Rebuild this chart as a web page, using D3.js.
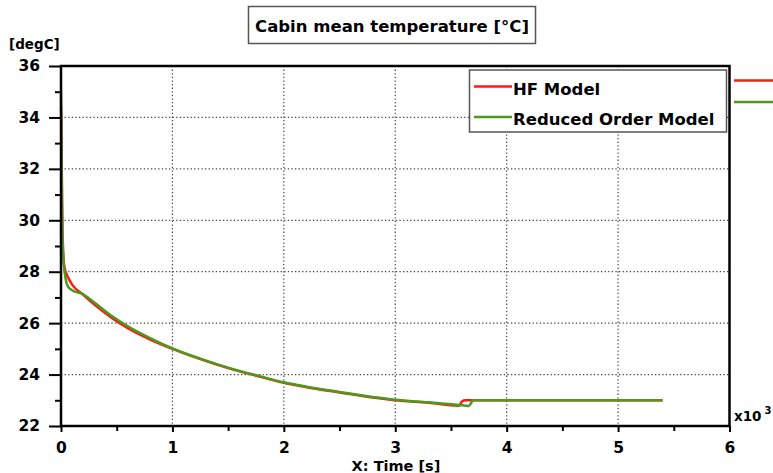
<!DOCTYPE html>
<html><head><meta charset="utf-8">
<script src="https://cdn.jsdelivr.net/npm/d3@7"></script>
<style>body{margin:0;background:#fff}text{font-family:"DejaVu Sans",Verdana,sans-serif;font-weight:bold}</style>
</head><body><svg id="c" width="773" height="473"></svg>
<script>
const title = "Cabin mean temperature [°C]";
const yUnit = "[degC]";
const xLabel = "X: Time [s]";
const seriesNames = ["HF Model", "Reduced Order Model"];
const seriesColors = ["#ff1a10", "#4b9a1c"];
const xTicks = [0, 1, 2, 3, 4, 5, 6];
const yTicks = [22, 24, 26, 28, 30, 32, 34, 36];
// time in x10^3 s
const hfTime = [0, 0.004, 0.008, 0.012, 0.018, 0.025, 0.035, 0.05, 0.07, 0.1, 0.2, 0.3, 0.45, 0.6, 0.8, 1.0, 1.25, 1.5, 1.8, 2.0, 2.5, 3.0, 3.3, 3.57, 3.6, 3.63, 4.0, 5.4];
const hfTemp = [34.4, 33.6, 31.5, 30.0, 28.9, 28.4, 28.1, 27.9, 27.72, 27.5, 27.1, 26.72, 26.22, 25.8, 25.36, 25.0, 24.6, 24.25, 23.9, 23.68, 23.3, 23.0, 22.9, 22.79, 22.96, 23.0, 23.0, 23.0];
const romTime = [0, 0.004, 0.008, 0.012, 0.018, 0.025, 0.035, 0.05, 0.07, 0.1, 0.2, 0.3, 0.45, 0.6, 0.8, 1.0, 1.25, 1.5, 1.8, 2.0, 2.5, 3.0, 3.3, 3.57, 3.66, 3.7, 4.0, 5.4];
const romTemp = [35.0, 33.2, 30.8, 29.6, 28.8, 28.3, 27.9, 27.55, 27.38, 27.28, 27.12, 26.8, 26.3, 25.88, 25.42, 25.02, 24.62, 24.27, 23.92, 23.7, 23.32, 23.02, 22.92, 22.82, 22.78, 23.0, 23.0, 23.0];

const svg = d3.select("#c");
const L = 61, R = 729.5, T = 66, B = 426;
const x = d3.scaleLinear().domain([0, 6]).range([L, R]);
const y = d3.scaleLinear().domain([22, 36]).range([B, T]);

// grid
const g = svg.append("g");
g.selectAll(".gx").data(xTicks.slice(1, -1)).join("line")
  .attr("x1", d => x(d)).attr("x2", d => x(d)).attr("y1", T).attr("y2", B)
  .attr("stroke", "#444").attr("stroke-width", 1.2).attr("stroke-dasharray", "1.3,2.3");
g.selectAll(".gy").data(yTicks.slice(1, -1)).join("line")
  .attr("x1", L).attr("x2", R).attr("y1", d => y(d)).attr("y2", d => y(d))
  .attr("stroke", "#444").attr("stroke-width", 1.2).attr("stroke-dasharray", "1.3,2.3");

// axes
const yAxis = d3.axisLeft(y).tickValues(yTicks).tickSize(12).tickPadding(9).tickFormat(d3.format("d"));
const yMinor = d3.axisLeft(y).tickValues(d3.range(23, 36, 2)).tickSize(6).tickFormat("");
const xAxis = d3.axisBottom(x).tickValues(xTicks).tickSize(6).tickPadding(10).tickFormat(d3.format("d"));
const xMinor = d3.axisBottom(x).tickValues(d3.range(0.5, 6, 1)).tickSize(5).tickFormat("");
function style(sel){ sel.select(".domain").remove(); sel.selectAll("line").attr("stroke","#000").attr("stroke-width",2); sel.selectAll("text").attr("font-size",15.5).attr("fill","#000").style("font-family","DejaVu Sans").style("font-weight","bold"); }
svg.append("g").attr("transform", `translate(${L},0)`).call(yAxis).call(style);
svg.append("g").attr("transform", `translate(${L},0)`).call(yMinor).call(style);
svg.append("g").attr("transform", `translate(0,${B})`).call(xAxis).call(style);
svg.append("g").attr("transform", `translate(0,${B})`).call(xMinor).call(style);

// lines
const line = d3.line().x(d => x(d[0])).y(d => y(d[1])).curve(d3.curveMonotoneX);
const hf = hfTime.map((t, i) => [t, hfTemp[i]]);
const rom = romTime.map((t, i) => [t, romTemp[i]]);
svg.append("path").datum(hf).attr("d", line).attr("fill", "none").attr("stroke", seriesColors[0]).attr("stroke-width", 2.5);
svg.append("path").datum(rom).attr("d", line).attr("fill", "none").attr("stroke", seriesColors[1]).attr("stroke-width", 2.5);

// frame
svg.append("rect").attr("x", L).attr("y", T).attr("width", R - L).attr("height", B - T)
  .attr("fill", "none").attr("stroke", "#000").attr("stroke-width", 2.5);

// title
svg.append("rect").attr("x", 248.5).attr("y", 6.5).attr("width", 287).attr("height", 37)
  .attr("fill", "#fff").attr("stroke", "#555").attr("stroke-width", 1.5);
svg.append("text").attr("x", 392).attr("y", 32).attr("text-anchor", "middle").attr("font-size", 16.5).text(title);

svg.append("text").attr("x", 9).attr("y", 49).attr("font-size", 13.5).text(yUnit);
svg.append("text").attr("x", 396).attr("y", 471).attr("text-anchor", "middle").attr("font-size", 14.5).text(xLabel);
const xs = svg.append("text").attr("x", 734).attr("y", 421).attr("font-size", 13.5);
xs.append("tspan").text("x10");
xs.append("tspan").attr("dx", 3).attr("dy", -7).attr("font-size", 10).text("3");

// legend
svg.append("rect").attr("x", 469.5).attr("y", 70).attr("width", 257).attr("height", 62)
  .attr("fill", "#fff").attr("stroke", "#555").attr("stroke-width", 1.5);
const lg = svg.append("g");
const ly = [86.5, 117];
seriesNames.forEach((n, i) => {
  lg.append("line").attr("x1", 474).attr("x2", 512).attr("y1", ly[i]).attr("y2", ly[i]).attr("stroke", seriesColors[i]).attr("stroke-width", 2.5);
  lg.append("text").attr("x", 513).attr("y", ly[i] + 8).attr("font-size", 16.5).text(n);
});
[80.5, 102].forEach((yy, i) => {
  svg.append("line").attr("x1", 734).attr("x2", 773).attr("y1", yy).attr("y2", yy).attr("stroke", seriesColors[i]).attr("stroke-width", 2.5);
});
</script></body></html>
